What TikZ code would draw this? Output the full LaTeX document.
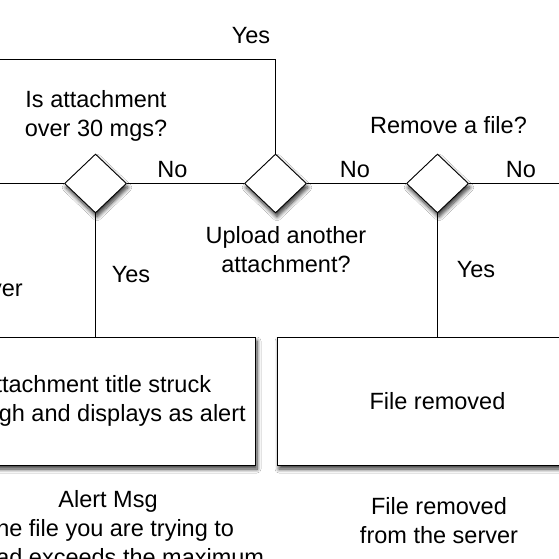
\documentclass[tikz,border=0pt]{standalone}
\usepackage{fontspec}
\setmainfont{Liberation Sans}
\usetikzlibrary{shapes.geometric,shadows.blur}
\begin{document}
\begin{tikzpicture}[x=1pt,y=-1pt,
  lbl/.style={font=\fontsize{23.5}{29}\selectfont, inner sep=0pt, align=center},
  shd/.style={blur shadow={shadow xshift=1.5pt, shadow yshift=-4pt, shadow blur radius=4pt, shadow opacity=80, shadow blur steps=8}},
  dec/.style={diamond, draw=black, fill=white, minimum width=62pt, minimum height=59pt, inner sep=0pt, line width=0.9pt, shd},
  proc/.style={rectangle, draw=black, fill=white, minimum width=320pt, minimum height=128pt, inner sep=0pt, line width=0.9pt, shd, font=\fontsize{23.5}{29}\selectfont, align=center},
  conn/.style={draw=black, line width=0.9pt}]
\useasboundingbox (0,0) rectangle (559,559);
\clip (0,0) rectangle (559,559);
\fill[white] (0,0) rectangle (559,559);
% coordinates for free ends
\coordinate (leftin) at (-20,183.5);
\coordinate (topleft) at (-20,59.5);
\coordinate (topcorner) at (275.5,59.5);
\coordinate (rightout) at (580,183.5);
\node[dec] (d1) at (95.5,183.5) {};
\node[dec] (d2) at (275.5,183.5) {};
\node[dec] (d3) at (437.5,183.5) {};
\node[proc] (b1) at (95.5,401) {Attachment title struck\\through and displays as alert};
\node[proc] (b2) at (437.5,401) {File removed};
\draw[conn] (leftin) -- (d1.west);
\draw[conn] (d1.east) -- (d2.west);
\draw[conn] (d2.east) -- (d3.west);
\draw[conn] (d3.east) -- (rightout);
\draw[conn] (d2.north) -- (topcorner) -- (topleft);
\draw[conn] (d1.south) -- (b1.north);
\draw[conn] (d3.south) -- (b2.north);
% labels
\node[lbl, anchor=base] (yestop) at (251,44) {Yes};
\node[lbl] (q1) at (96,115.5) {Is attachment\\over 30 mgs?};
\node[lbl, anchor=base] (no1) at (172.5,177) {No};
\node[lbl] (q2) at (286,249.5) {Upload another\\attachment?};
\node[lbl, anchor=base] (q3) at (448.5,133) {Remove a file?};
\node[lbl, anchor=base] (no2) at (355,177) {No};
\node[lbl, anchor=base] (no3) at (521,177) {No};
\node[lbl, anchor=base] (yes1) at (131,282) {Yes};
\node[lbl, anchor=base] (yes3) at (476,277) {Yes};
\node[lbl, anchor=base east] (srv) at (23,296) {to the server};
\node[lbl] (alert) at (108,530) {Alert Msg\\The file you are trying to\\upload exceeds the maximum};
\node[lbl] (fr) at (439,521) {File removed\\from the server};
\end{tikzpicture}
\end{document}
